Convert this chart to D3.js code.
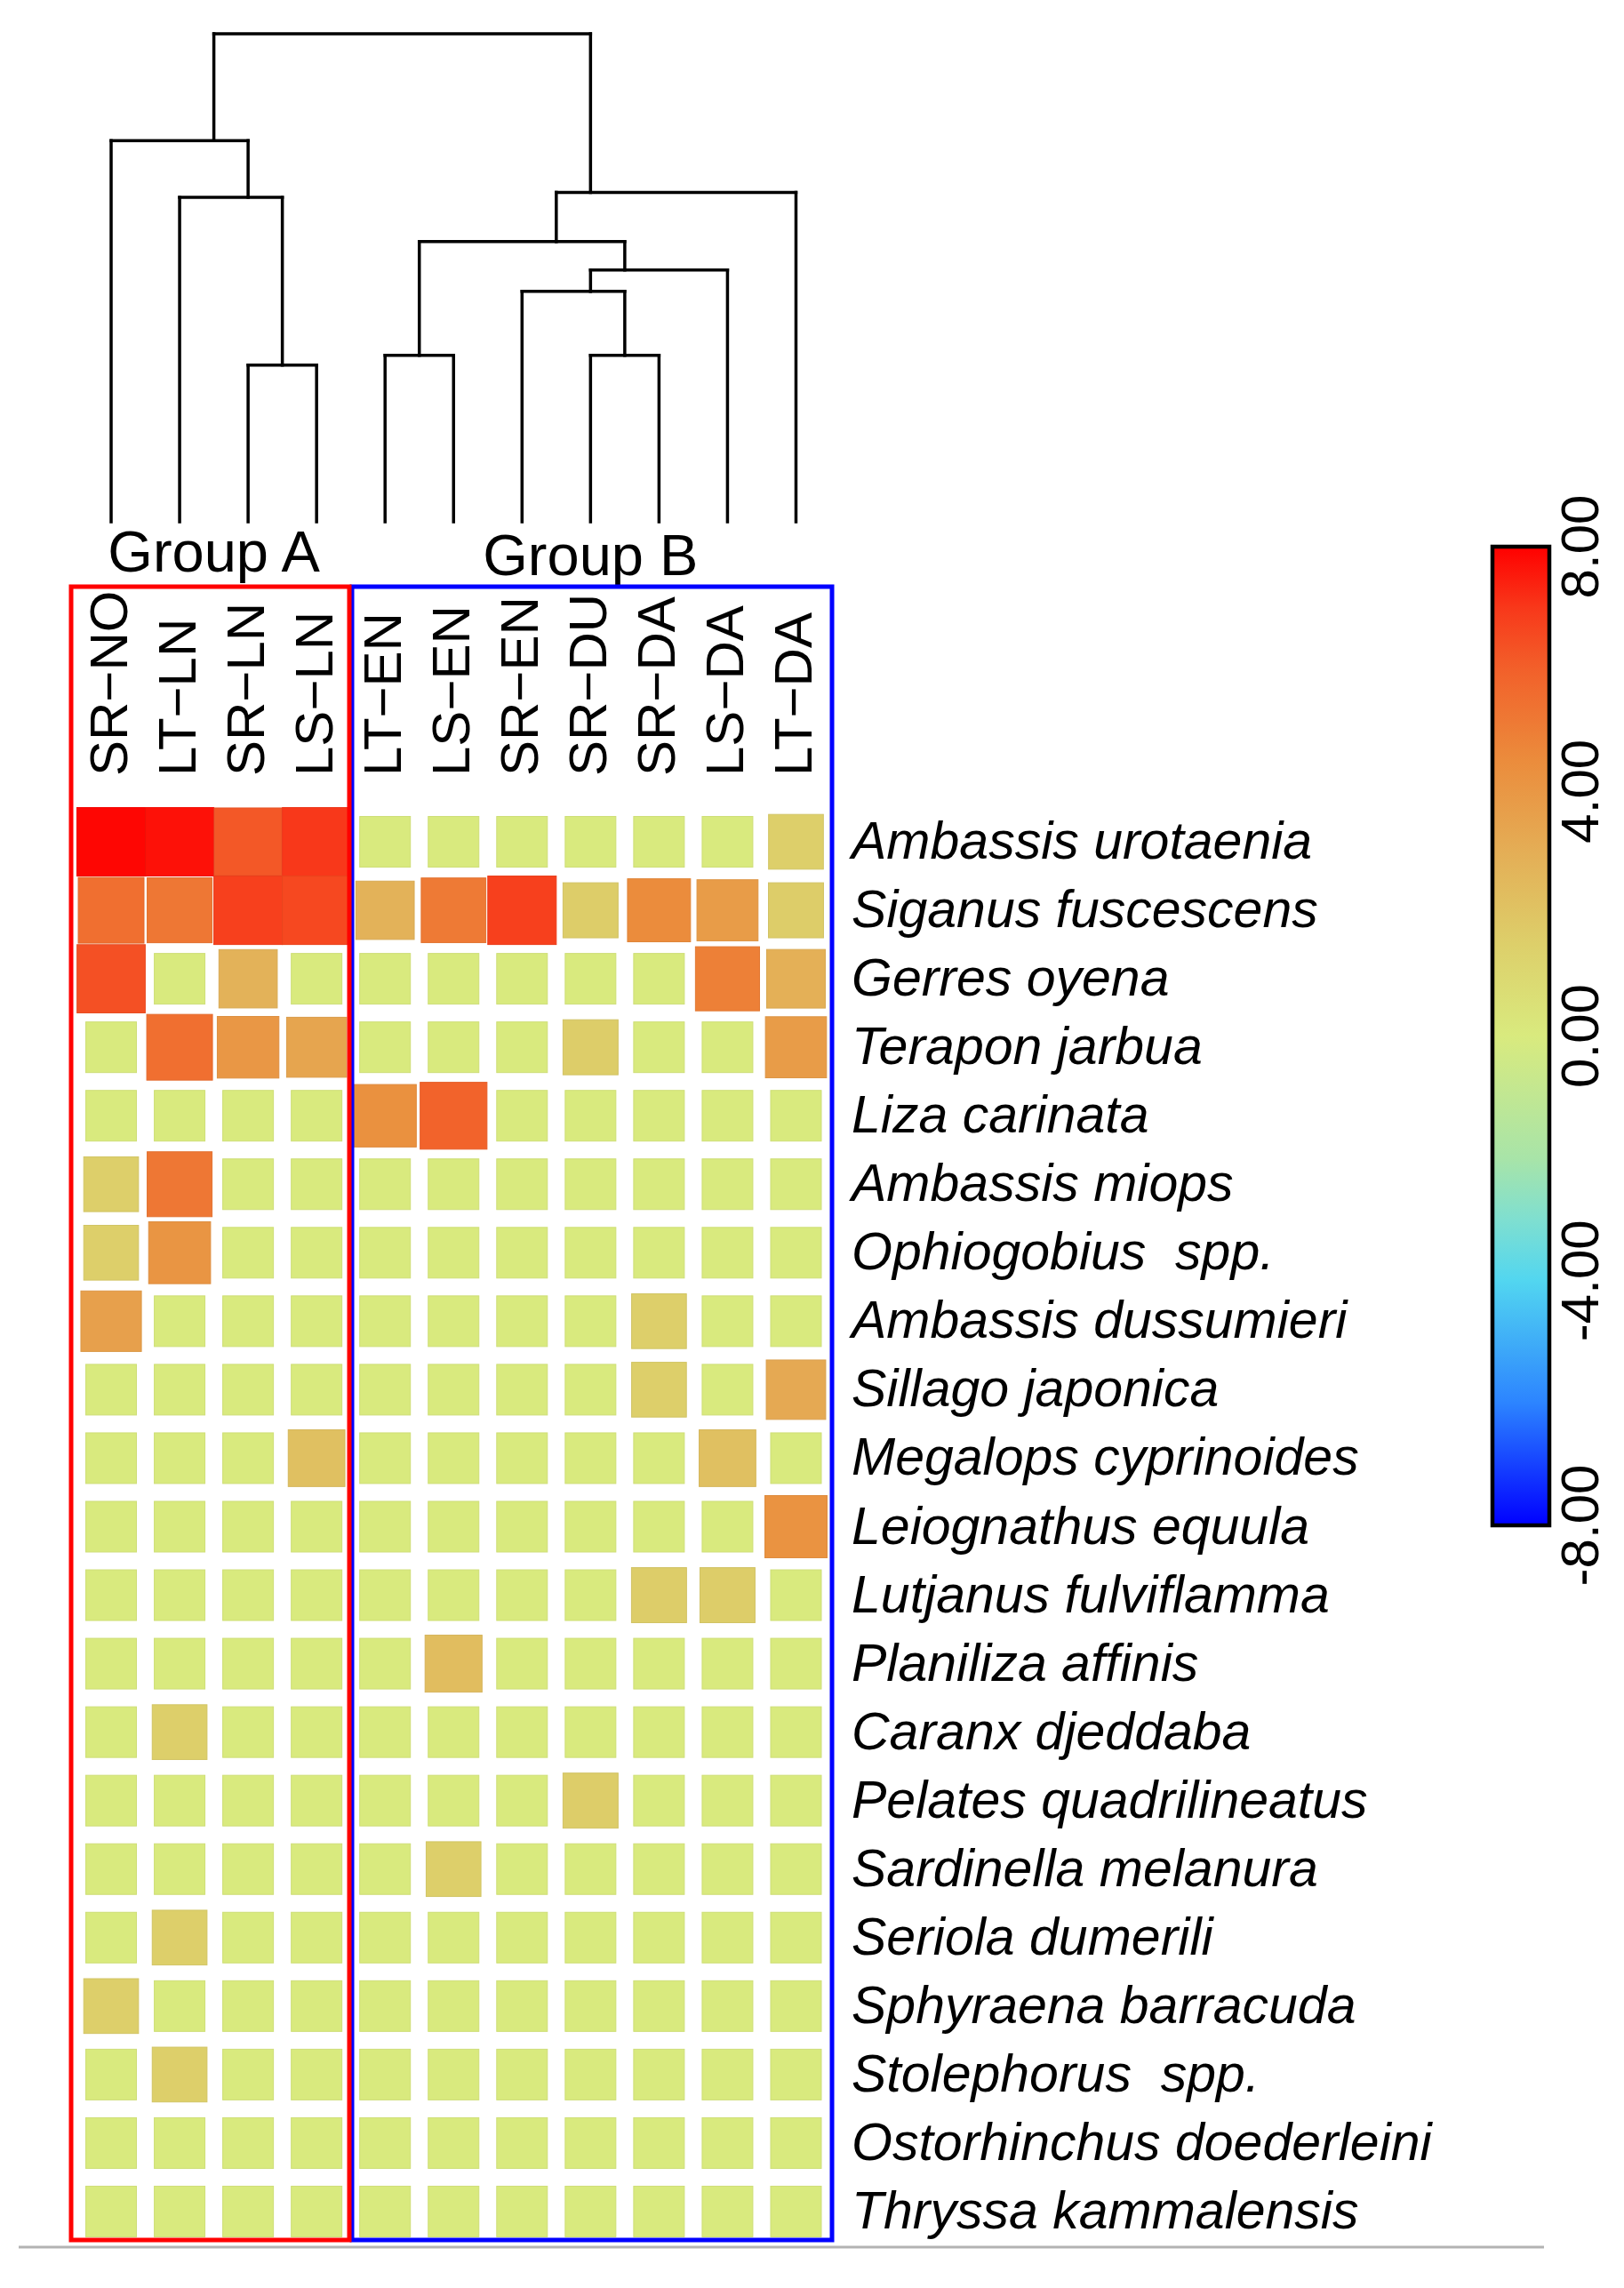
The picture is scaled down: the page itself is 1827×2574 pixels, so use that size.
<!DOCTYPE html>
<html>
<head>
<meta charset="utf-8">
<script src="https://cdn.jsdelivr.net/npm/d3@7"></script>
<style>
  html, body { margin: 0; padding: 0; background: #ffffff; }
  svg { display: block; }
  text { font-family: "Liberation Sans", Arial, sans-serif; fill: #000; }
</style>
</head>
<body>
<svg id="chart" width="1827" height="2574"></svg>
<script>
// ---------------- DATA ----------------
const columns = ["SR\u2212NO","LT\u2212LN","SR\u2212LN","LS\u2212LN","LT\u2212EN","LS\u2212EN","SR\u2212EN","SR\u2212DU","SR\u2212DA","LS\u2212DA","LT\u2212DA"];

const species = [
  "Ambassis urotaenia","Siganus fuscescens","Gerres oyena","Terapon jarbua","Liza carinata",
  "Ambassis miops","Ophiogobius  spp.","Ambassis dussumieri","Sillago japonica","Megalops cyprinoides",
  "Leiognathus equula","Lutjanus fulviflamma","Planiliza affinis","Caranx djeddaba","Pelates quadrilineatus",
  "Sardinella melanura","Seriola dumerili","Sphyraena barracuda","Stolephorus  spp.","Ostorhinchus doederleini",
  "Thryssa kammalensis"
];

// one row per species, one value per column (same order as columns)
const values = [
  [7.9, 7.7, 6.2, 7.0, 0,   0,   0,   0,   0,   0,   1.5],
  [5.5, 5.2, 6.8, 6.6, 2.8, 5.1, 6.8, 1.6, 4.5, 3.8, 1.6],
  [6.4, 0,   2.8, 0,   0,   0,   0,   0,   0,   4.9, 2.9],
  [0,   5.5, 4.0, 3.4, 0,   0,   0,   1.6, 0,   0,   3.8],
  [0,   0,   0,   0,   4.3, 5.9, 0,   0,   0,   0,   0  ],
  [1.5, 5.2, 0,   0,   0,   0,   0,   0,   0,   0,   0  ],
  [1.5, 4.1, 0,   0,   0,   0,   0,   0,   0,   0,   0  ],
  [3.6, 0,   0,   0,   0,   0,   0,   0,   1.5, 0,   0  ],
  [0,   0,   0,   0,   0,   0,   0,   0,   1.5, 0,   3.2],
  [0,   0,   0,   2.2, 0,   0,   0,   0,   0,   2.2, 0  ],
  [0,   0,   0,   0,   0,   0,   0,   0,   0,   0,   4.2],
  [0,   0,   0,   0,   0,   0,   0,   0,   1.6, 1.6, 0  ],
  [0,   0,   0,   0,   0,   2.3, 0,   0,   0,   0,   0  ],
  [0,   1.5, 0,   0,   0,   0,   0,   0,   0,   0,   0  ],
  [0,   0,   0,   0,   0,   0,   0,   1.6, 0,   0,   0  ],
  [0,   0,   0,   0,   0,   1.5, 0,   0,   0,   0,   0  ],
  [0,   1.5, 0,   0,   0,   0,   0,   0,   0,   0,   0  ],
  [1.5, 0,   0,   0,   0,   0,   0,   0,   0,   0,   0  ],
  [0,   1.5, 0,   0,   0,   0,   0,   0,   0,   0,   0  ],
  [0,   0,   0,   0,   0,   0,   0,   0,   0,   0,   0  ],
  [0,   0,   0,   0,   0,   0,   0,   0,   0,   0,   0  ]
];

const groupNames = ["Group A", "Group B"];
const groupColumns = [[0, 1, 2, 3], [4, 5, 6, 7, 8, 9, 10]];

// dendrogram merges: [left, right, height]; a number refers to an earlier merge
const merges = [
  ["SR\u2212LN", "LS\u2212LN", 3.21],
  ["LT\u2212LN", 0, 6.65],
  ["SR\u2212NO", 1, 7.81],
  ["LT\u2212EN", "LS\u2212EN", 3.41],
  ["SR\u2212DU", "SR\u2212DA", 3.41],
  ["SR\u2212EN", 4, 4.72],
  [5, "LS\u2212DA", 5.16],
  [3, 6, 5.74],
  [7, "LT\u2212DA", 6.75],
  [2, 8, 10.0]
];

const legendTicks = [8, 4, 0, -4, -8];
const legendTickLabels = ["8.00", "4.00", "0.00", "-4.00", "-8.00"];
const colorValues = [-8, -6, -4, -3, -2, 0, 1.5, 3, 4.5, 6, 7, 8];
const colorStops = ["#0000ff", "#2c84ff", "#52d6f0", "#7fdfd0", "#a8e4a8", "#d9ea7e",
                    "#ddcf6a", "#e4ae56", "#eb8c3c", "#f2602a", "#f8381a", "#ff0000"];

// ---------------- CHART ----------------
const svg = d3.select("#chart");
const FONT = "'Liberation Sans', Arial, sans-serif";

const x = d3.scaleBand().domain(columns).range([86.5, 934]).padding(0);
const y = d3.scaleBand().domain(species).range([908.5, 2526.5]).padding(0);
const color = d3.scaleLinear().domain(colorValues).range(colorStops).clamp(true);
const size = d3.scaleLinear().domain([0, 6.5]).range([57, x.bandwidth()]).clamp(true);
const cx = c => x(c) + x.bandwidth() / 2;
const cy = s => y(s) + y.bandwidth() / 2;

// ----- dendrogram -----
const hScale = d3.scaleLinear().domain([0, 10]).range([587, 38]);
const nodes = merges.map(() => null);
function nodeInfo(ref) {
  if (typeof ref === "number") return nodes[ref];
  return { x: cx(ref), h: 0, leaves: [cx(ref)] };
}
const dendroSegs = [];
merges.forEach((m, i) => {
  const a = nodeInfo(m[0]), b = nodeInfo(m[1]);
  const leaves = a.leaves.concat(b.leaves);
  nodes[i] = { x: d3.mean(leaves), h: m[2], leaves };
  const yTop = hScale(m[2]);
  dendroSegs.push([[a.x, hScale(a.h)], [a.x, yTop]]);
  dendroSegs.push([[b.x, hScale(b.h)], [b.x, yTop]]);
  dendroSegs.push([[a.x, yTop], [b.x, yTop]]);
});
svg.append("g")
  .selectAll("path").data(dendroSegs).join("path")
  .attr("d", d => d3.line()(d))
  .attr("stroke", "#000").attr("stroke-width", 3.5)
  .attr("stroke-linecap", "square").attr("fill", "none");

// ----- group labels -----
svg.append("g").selectAll("text").data(groupNames).join("text")
  .attr("x", (d, i) => d3.mean(groupColumns[i], c => cx(columns[c])))
  .attr("y", (d, i) => i === 0 ? 643 : 647)
  .attr("text-anchor", "middle")
  .style("font-family", FONT).style("font-size", "65px")
  .text(d => d);

// ----- cells -----
const cells = [];
values.forEach((row, r) => row.forEach((v, c) => cells.push({ s: species[r], c: columns[c], v })));
svg.append("g").selectAll("rect").data(cells).join("rect")
  .attr("x", d => cx(d.c) - size(d.v) / 2)
  .attr("y", d => cy(d.s) - size(d.v) / 2)
  .attr("width", d => size(d.v))
  .attr("height", d => size(d.v))
  .attr("fill", d => color(d.v))
  .attr("stroke", d => d3.color(color(d.v)).darker(0.15))
  .attr("stroke-width", 1);

// ----- column labels -----
svg.append("g").selectAll("text").data(columns).join("text")
  .attr("transform", d => `translate(${cx(d) + 18},873) rotate(-90)`)
  .attr("text-anchor", "start")
  .style("font-family", FONT).style("font-size", "60px")
  .text(d => d);

// ----- row labels -----
svg.append("g").selectAll("text").data(species).join("text")
  .attr("x", 958)
  .attr("y", d => cy(d) + 19)
  .style("font-family", FONT).style("font-size", "59px").style("font-style", "italic")
  .style("white-space", "pre")
  .text(d => d);

// ----- group boxes -----
const boxTop = 660, boxBottom = 2520;
svg.append("rect")
  .attr("x", 396).attr("y", boxTop).attr("width", 936 - 396).attr("height", boxBottom - boxTop)
  .attr("fill", "none").attr("stroke", "#0000ff").attr("stroke-width", 5);
svg.append("rect")
  .attr("x", 80).attr("y", boxTop).attr("width", 393 - 80).attr("height", boxBottom - boxTop)
  .attr("fill", "none").attr("stroke", "#ff0000").attr("stroke-width", 5);

// ----- bottom gray rule -----
svg.append("line")
  .attr("x1", 21).attr("x2", 1737).attr("y1", 2528).attr("y2", 2528)
  .attr("stroke", "#b3b3b3").attr("stroke-width", 3);

// ----- color legend -----
const legY = d3.scaleLinear().domain([-8, 8]).range([1716, 615]);
const defs = svg.append("defs");
const grad = defs.append("linearGradient").attr("id", "legGrad")
  .attr("x1", 0).attr("x2", 0).attr("y1", 1).attr("y2", 0);
grad.selectAll("stop").data(colorValues).join("stop")
  .attr("offset", d => (d + 8) / 16)
  .attr("stop-color", d => color(d));
svg.append("rect")
  .attr("x", 1679).attr("y", legY(8)).attr("width", 64).attr("height", legY(-8) - legY(8))
  .attr("fill", "url(#legGrad)").attr("stroke", "#000").attr("stroke-width", 4.5);

svg.append("g").selectAll("text").data(legendTicks).join("text")
  .attr("transform", d => `translate(1798,${legY(d)}) rotate(-90)`)
  .attr("text-anchor", "middle")
  .style("font-family", FONT).style("font-size", "60px")
  .text((d, i) => legendTickLabels[i]);
</script>
</body>
</html>
